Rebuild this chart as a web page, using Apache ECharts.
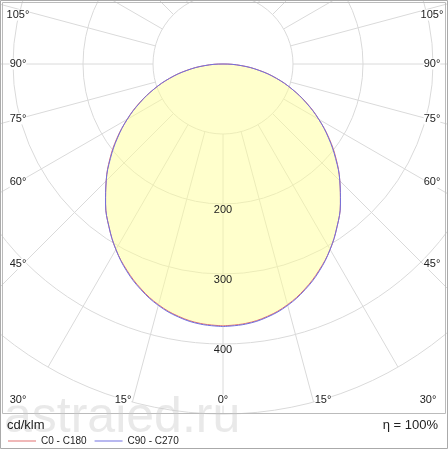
<!DOCTYPE html>
<html>
<head>
<meta charset="utf-8">
<script src="https://cdn.jsdelivr.net/npm/echarts@6/dist/echarts.min.js"></script>
<style>html,body{margin:0;padding:0;background:#fff}#main{width:448px;height:450px}</style>
</head>
<body>
<div id="main"></div>
<script>
// gamma angles (deg from nadir) and intensities, cd/klm
var gammaAngles = [0, 5, 10, 15, 20, 25, 30, 35, 40, 45, 50, 55, 60, 65, 70, 75, 80, 85, 90];
var c0c180 = [374, 372, 366, 356, 342, 325, 306, 284, 261, 236, 211, 185, 158, 132, 105, 79, 53, 26, 0];
var c90c270 = [375, 373, 367, 357, 343, 326, 306, 284, 261, 236, 210, 184, 158, 131, 105, 79, 52, 26, 0];
var rayAngles = [0, 15, 30, 45, 60, 75, 90, 105, 120, 135, 150, 165, 180, 195, 210, 225, 240, 255, 270, 285, 300, 315, 330, 345];
var radiusLabels = [200, 300, 400];
var sideLabels = [105, 90, 75, 60, 45];
var bottomLabels = [30, 15, 0];

// both halves of the curve: left side uses gamma, right side 360-gamma
function curve(vals) {
  var pts = [];
  for (var i = 0; i < gammaAngles.length; i++) pts.push([vals[i], gammaAngles[i]]);
  for (var j = gammaAngles.length - 2; j >= 0; j--) pts.push([vals[j], 360 - gammaAngles[j]]);
  return pts;
}

var chart = echarts.init(document.getElementById('main'));
var cx = 223, cy = 64;

var option = {
  animation: false,
  polar: { center: [cx, cy], radius: 350 },
  angleAxis: {
    type: 'value', min: 0, max: 360, startAngle: 270, clockwise: true,
    axisLine: { show: false }, axisTick: { show: false }, axisLabel: { show: false },
    splitLine: { show: false }
  },
  radiusAxis: {
    type: 'value', min: 0, max: 500, interval: 100,
    axisLine: { show: false }, axisTick: { show: false }, axisLabel: { show: false },
    splitLine: { show: false }
  },
  legend: {
    left: 3, top: 431, itemWidth: 28, itemHeight: 1, itemGap: 8, icon: 'rect', z: 30,
    textStyle: { fontSize: 10, color: '#222', fontFamily: 'Arial' },
    data: ['C0 - C180', 'C90 - C270']
  },
  series: [{
    type: 'custom', coordinateSystem: 'polar', silent: true, z: 1,
    data: [0],
    renderItem: function (params, api) {
      var children = [];
      [100, 200, 300, 400, 500].forEach(function (r) {
        var p = api.coord([r, 0]);
        children.push({ type: 'circle', shape: { cx: cx, cy: cy, r: p[1] - cy },
          style: { fill: null, stroke: '#dadada', lineWidth: 1 } });
      });
      rayAngles.forEach(function (a) {
        var p1 = api.coord([100, a]), p2 = api.coord([500, a]);
        children.push({ type: 'line', shape: { x1: p1[0], y1: p1[1], x2: p2[0], y2: p2[1] },
          style: { stroke: '#dadada', lineWidth: 1 } });
      });
      return { type: 'group', children: children };
    }
  }, {
    name: 'C0 - C180', type: 'line', coordinateSystem: 'polar', z: 3, smooth: 0.4,
    data: curve(c0c180), showSymbol: false, symbol: 'none',
    lineStyle: { color: '#e07070', width: 1 }, itemStyle: { color: '#e07070' },
    areaStyle: { color: 'rgba(255,255,150,0.7)' }
  }, {
    name: 'C90 - C270', type: 'line', coordinateSystem: 'polar', z: 4, smooth: 0.4,
    data: curve(c90c270), showSymbol: false, symbol: 'none',
    lineStyle: { color: '#7070e0', width: 1 }, itemStyle: { color: '#7070e0' }
  }]
};
chart.setOption(option);

// texts placed from the polar scale
var g = [];
var tf = { fontSize: 11, fill: '#222', fontFamily: 'Arial' };
radiusLabels.forEach(function (r) {
  var p = chart.convertToPixel({ polarIndex: 0 }, [r, 0]);
  g.push({ type: 'text', x: p[0], y: p[1] + 6, z: 10,
    style: Object.assign({ text: String(r), align: 'center', verticalAlign: 'middle' }, tf) });
});
sideLabels.forEach(function (a) {
  var y = cy + 205 / Math.tan(a * Math.PI / 180) - (a > 90 ? -6 : 0);
  if (a === 45) y -= 5;
  g.push({ type: 'text', x: 18, y: y, z: 10, style: Object.assign({ text: a + '°', align: 'center', verticalAlign: 'middle', backgroundColor: '#fff' }, tf) });
  g.push({ type: 'text', x: 432, y: y, z: 10, style: Object.assign({ text: a + '°', align: 'center', verticalAlign: 'middle', backgroundColor: '#fff' }, tf) });
});
bottomLabels.forEach(function (a) {
  var dx = a === 30 ? 205 : 100 * a / 15;
  [-1, 1].forEach(function (s) {
    if (a === 0 && s > 0) return;
    g.push({ type: 'text', x: cx + s * dx, y: 400, z: 10, style: Object.assign({ text: a + '°', align: 'center', verticalAlign: 'middle', backgroundColor: '#fff' }, tf) });
  });
});
g.push({ type: 'rect', shape: { x: 0, y: 414, width: 448, height: 36 }, style: { fill: '#fff' }, z: 0 });
g.push({ type: 'rect', shape: { x: 2.5, y: 2.5, width: 443, height: 411 }, style: { fill: null, stroke: '#bbb' }, z: 6 });
g.push({ type: 'rect', shape: { x: 0.5, y: 0.5, width: 447, height: 448 }, style: { fill: null, stroke: '#aaa' }, z: 6 });
g.push({ type: 'text', x: 4, y: 443, z: 7, style: { text: 'astraled.ru', fill: 'rgba(200,200,200,0.4)', fontSize: 50, fontFamily: 'Arial', verticalAlign: 'bottom' } });
g.push({ type: 'text', x: 7, y: 425, z: 8, style: { text: 'cd/klm', fill: '#222', fontSize: 13, fontFamily: 'Arial', verticalAlign: 'middle' } });
g.push({ type: 'text', x: 438, y: 425, z: 8, style: { text: 'η = 100%', fill: '#222', fontSize: 13, fontFamily: 'Arial', align: 'right', verticalAlign: 'middle' } });
chart.setOption({ graphic: g });
</script>
</body>
</html>
